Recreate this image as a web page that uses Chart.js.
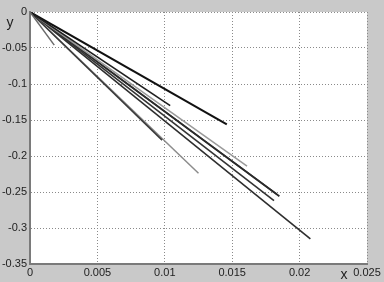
<!DOCTYPE html>
<html>
<head>
<meta charset="utf-8">
<script src="https://cdn.jsdelivr.net/npm/chart.js@4.4.0/dist/chart.umd.min.js"></script>
<style>
  html, body { margin: 0; padding: 0; background: #c9c9c9; }
  #wrap { position: relative; width: 384px; height: 282px; }
</style>
</head>
<body>
<div id="wrap"><canvas id="grafico"></canvas></div>
<script>
// line end points (all lines start at the origin)
const lineasX = [0.0018, 0.0104, 0.0146, 0.0098, 0.0125, 0.0161, 0.0185, 0.0183, 0.0181, 0.0208];
const lineasY = [-0.046, -0.130, -0.156, -0.178, -0.224, -0.214, -0.256, -0.253, -0.262, -0.315];
const ticksX = [0, 0.005, 0.01, 0.015, 0.02, 0.025];
const ticksY = [0, -0.05, -0.1, -0.15, -0.2, -0.25, -0.3, -0.35];

const colores = ["#6a6a6a", "#1e1e1e", "#111111", "#3a3a3a", "#8c8c8c", "#9a9a9a", "#2a2a2a", "#444444", "#333333", "#2e2e2e"];
const anchos = [1.5, 1.6, 2, 1.6, 1.5, 1.5, 1.8, 1.6, 1.6, 1.6];

const datasets = lineasX.map((x, i) => ({
    data: [{ x: 0, y: 0 }, { x: x, y: lineasY[i] }],
    borderColor: colores[i],
    borderWidth: anchos[i],
    pointRadius: 0,
    showLine: true,
    tension: 0
}));

const fondoBlanco = {
    id: 'fondoBlanco',
    beforeDraw(chart) {
        const { ctx, chartArea: a } = chart;
        ctx.save();
        ctx.fillStyle = "#ffffff";
        ctx.fillRect(a.left, a.top, a.right - a.left, a.bottom - a.top);
        ctx.restore();
    },
    afterDraw(chart) {
        const ctx = chart.ctx;
        ctx.save();
        ctx.fillStyle = "#222";
        ctx.font = "14px 'Liberation Sans', Arial, sans-serif";
        ctx.textAlign = "center";
        ctx.textBaseline = "middle";
        ctx.fillText("y", 10, 23);
        ctx.fillText("x", 344, 275);
        ctx.restore();
    }
};

const fuente = { family: "'Liberation Sans', Arial, sans-serif", size: 11 };
const formato = v => String(Number(v.toFixed(3)));

new Chart(document.getElementById("grafico"), {
    type: 'scatter',
    data: { datasets: datasets },
    options: {
        responsive: true,
        maintainAspectRatio: false,
        animation: false,
        layout: { padding: { top: 12, right: 17, left: 0, bottom: 0 } },
        plugins: { legend: { display: false }, tooltip: { enabled: false } },
        scales: {
            x: {
                type: 'linear',
                min: 0,
                max: 0.025,
                afterBuildTicks: s => { s.ticks = ticksX.map(v => ({ value: v })); },
                afterFit: s => { s.height = 18; },
                ticks: { color: "#222", font: fuente, padding: 2, maxRotation: 0, callback: formato },
                grid: { color: "#8a8a8a", drawTicks: false, lineWidth: 1 },
                border: { display: true, color: "#7a7a7a", width: 2, dash: [1, 2] }
            },
            y: {
                type: 'linear',
                min: -0.35,
                max: 0,
                afterBuildTicks: s => { s.ticks = ticksY.map(v => ({ value: v })); },
                afterFit: s => { s.width = 30; },
                ticks: { color: "#222", font: fuente, padding: 3, callback: formato },
                grid: { color: "#8a8a8a", drawTicks: false, lineWidth: 1 },
                border: { display: true, color: "#7a7a7a", width: 2, dash: [1, 2] }
            }
        }
    },
    plugins: [fondoBlanco]
});
</script>
</body>
</html>
